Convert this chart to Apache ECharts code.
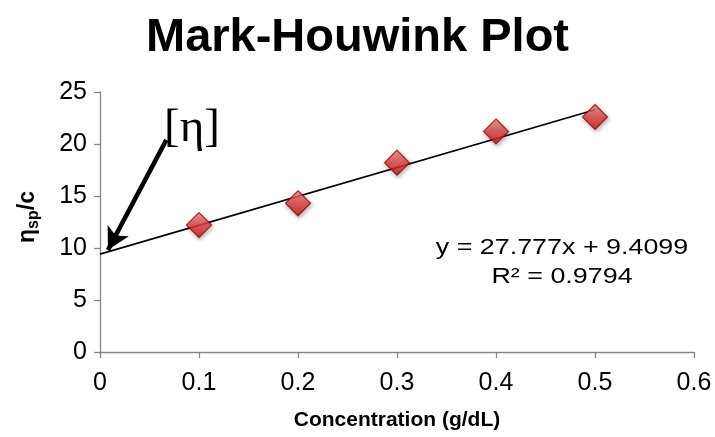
<!DOCTYPE html>
<html>
<head>
<meta charset="utf-8">
<script src="https://cdn.jsdelivr.net/npm/echarts@6/dist/echarts.min.js"></script>
<style>
  html, body { margin: 0; padding: 0; background: #fff; }
  #chart { width: 715px; height: 437px; }
</style>
</head>
<body>
<div id="chart"></div>
<script>
// Concentration (g/dL) and reduced specific viscosity ηsp/c
const concentration = [0.1, 0.2, 0.3, 0.4, 0.5];
const etaSpOverC = [12.2, 14.3, 18.2, 21.2, 22.6];

// Linear trendline as reported
const slope = 27.777;
const intercept = 9.4099;
const rSquared = 0.9794;
const trendX = [0, 0.5];

// Arrow pointing at the intercept, [start, end] in data units
const arrowFrom = [0.067, 20.4];
const arrowTo = [0.008, 9.8];

const xTicks = [0, 0.1, 0.2, 0.3, 0.4, 0.5, 0.6];
const yTicks = [0, 5, 10, 15, 20, 25];

const font = 'Liberation Sans, Arial, sans-serif';

const scatterData = concentration.map((c, i) => [c, etaSpOverC[i]]);
const trendData = trendX.map(x => [x, slope * x + intercept]);

const chart = echarts.init(document.getElementById('chart'));
chart.setOption({
  animation: false,
  backgroundColor: '#ffffff',
  title: {
    text: 'Mark-Houwink Plot',
    left: 'center',
    top: 10,
    textStyle: { fontFamily: font, fontWeight: 'bold', fontSize: 47, color: '#000' }
  },
  grid: { left: 100, right: 21, top: 92, bottom: 85 },
  xAxis: {
    type: 'value',
    min: xTicks[0],
    max: xTicks[xTicks.length - 1],
    interval: 0.1,
    name: 'Concentration (g/dL)',
    nameLocation: 'middle',
    nameGap: 58,
    nameTextStyle: { fontFamily: font, fontWeight: 'bold', fontSize: 21, color: '#000' },
    axisLine: { lineStyle: { color: '#868686', width: 1.3 } },
    axisTick: { show: true, length: 6, lineStyle: { color: '#868686', width: 1.3 } },
    axisLabel: {
      fontFamily: font, fontSize: 25, color: '#000', margin: 19,
      formatter: v => String(Math.round(v * 10) / 10)
    },
    splitLine: { show: false }
  },
  yAxis: {
    type: 'value',
    min: yTicks[0],
    max: yTicks[yTicks.length - 1],
    interval: 5,
    name: '{a|η}{b|sp}{a|/c}',
    nameLocation: 'middle',
    nameRotate: 90,
    nameGap: 58,
    nameTextStyle: {
      padding: [0, 0, 0, 10],
      rich: {
        a: { fontFamily: font, fontWeight: 'bold', fontSize: 23, color: '#000' },
        b: { fontFamily: font, fontWeight: 'bold', fontSize: 16, color: '#000', padding: [12, 0, 0, 0] }
      }
    },
    axisLine: { show: true, lineStyle: { color: '#868686', width: 1.3 } },
    axisTick: { show: true, length: 6, lineStyle: { color: '#868686', width: 1.3 } },
    axisLabel: { fontFamily: font, fontSize: 25, color: '#000', margin: 13 },
    splitLine: { show: false }
  },
  series: [
    {
      name: 'trend',
      type: 'line',
      data: trendData,
      symbol: 'none',
      lineStyle: { color: '#000', width: 1.6 },
      z: 3,
      markLine: {
        silent: true,
        symbol: ['none', 'arrow'],
        symbolSize: [18, 22],
        label: { show: false },
        lineStyle: { color: '#000', width: 4.5, type: 'solid' },
        data: [[{ coord: arrowFrom }, { coord: arrowTo }]]
      }
    },
    {
      name: 'data',
      type: 'scatter',
      data: scatterData,
      symbol: 'diamond',
      symbolSize: [25, 25],
      z: 4,
      itemStyle: {
        color: new echarts.graphic.LinearGradient(0, 0, 0, 1, [
          { offset: 0, color: '#f49a9a' },
          { offset: 0.5, color: '#e2403f' },
          { offset: 1, color: '#b81616' }
        ]),
        borderColor: '#a00000',
        borderWidth: 1.2,
        shadowColor: 'rgba(0,0,0,0.35)',
        shadowBlur: 4,
        shadowOffsetX: 1,
        shadowOffsetY: 2
      }
    }
  ],
  graphic: [
    {
      type: 'text',
      left: 164,
      top: 105,
      style: { text: '[η]', fontFamily: 'Liberation Serif, DejaVu Serif, serif', fontSize: 47, fill: '#000' }
    },
    {
      type: 'text',
      x: 562,
      y: 234,
      scaleX: 1.25,
      style: {
        text: 'y = ' + slope + 'x + ' + intercept + '\nR² = ' + rSquared,
        fontFamily: font, fontSize: 21.5, fill: '#000',
        align: 'center', verticalAlign: 'top', lineHeight: 29
      }
    }
  ]
});
</script>
</body>
</html>
